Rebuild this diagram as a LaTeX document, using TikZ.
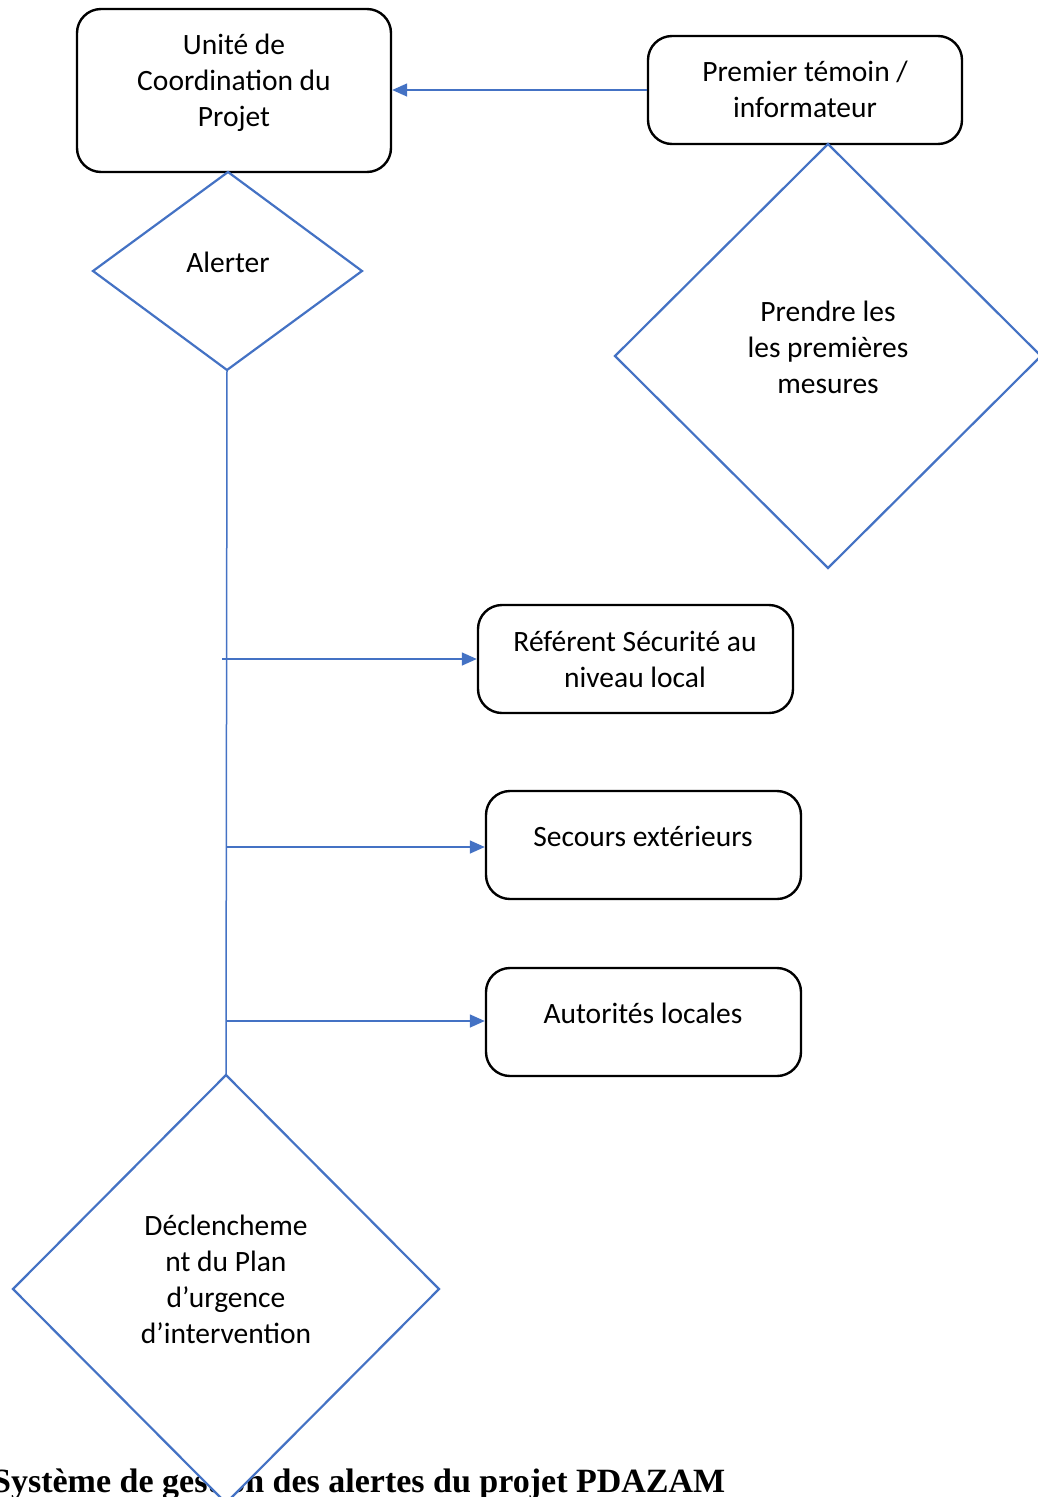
\documentclass[tikz,border=0pt]{standalone}
\usepackage{fontspec}
\setmainfont{Carlito}
\newfontfamily\capfont{Liberation Serif}
\usetikzlibrary{arrows.meta}
\definecolor{wblue}{HTML}{4472C4}
\begin{document}
\begin{tikzpicture}[x=1pt,y=-1pt,
  box/.style={draw=black, line width=2.4pt, rounded corners=24pt, inner sep=0pt},
  flow/.style={draw=wblue, line width=1.5pt},
  arr/.style={flow, -{Triangle[length=15pt,width=13pt]}},
  dia/.style={draw=wblue, line width=2.2pt, fill=white, line join=miter},
  txt/.style={font=\fontsize{29.5}{36}\selectfont, align=center, inner sep=0pt}]
\useasboundingbox (0,0) rectangle (1037,1497);

% boxes
\node[box, minimum width=314pt, minimum height=163pt] (ucp) at (234,90.5) {};
\node[box, minimum width=314pt, minimum height=108pt] (pt) at (805,90) {};
\node[box, minimum width=315pt, minimum height=108pt] (ref) at (635.5,659) {};
\node[box, minimum width=315pt, minimum height=108pt] (sec) at (643.5,845) {};
\node[box, minimum width=315pt, minimum height=108pt] (aut) at (643.5,1022) {};

% diamonds
\coordinate (aT) at (228,172); \coordinate (aR) at (362,271);
\coordinate (aB) at (227,370); \coordinate (aL) at (93,271);
\draw[dia] (aT) -- (aR) -- (aB) -- (aL) -- cycle;

\coordinate (pT) at (828,144); \coordinate (pR) at (1041,356);
\coordinate (pB) at (828,568); \coordinate (pL) at (615,356);
\draw[dia] (pT) -- (pR) -- (pB) -- (pL) -- cycle;

% caption (under the big diamond)
\node[anchor=base west, inner sep=0pt, font=\capfont\bfseries\fontsize{34}{40}\selectfont] (cap) at (-8,1492) {Système de gestion des alertes du projet PDAZAM};

\coordinate (dT) at (226,1075); \coordinate (dR) at (439,1289);
\coordinate (dB) at (226,1503); \coordinate (dL) at (13,1289);
\draw[dia] (dT) -- (dR) -- (dB) -- (dL) -- cycle;

% texts
\node[txt] (tucp) at (234,83) {Unité de\\Coordination du\\Projet};
\node[txt] (tpt) at (805,89) {Premier témoin /\\informateur};
\node[txt] (tal) at (228,262) {Alerter};
\node[txt] (tpr) at (828,347) {Prendre les\\les premières\\mesures};
\node[txt] (tref) at (635,659) {Référent Sécurité au\\niveau local};
\node[txt] (tsec) at (643,836) {Secours extérieurs};
\node[txt] (taut) at (643,1013) {Autorités locales};
\node[txt] (tdec) at (226,1279) {Déclencheme\\nt du Plan\\d’urgence\\d’intervention};

% connectors
\draw[arr] (pt.west) -- (pt.west -| ucp.east);
\draw[flow] (aB) -- (dT);
\coordinate (j1) at (222,659);
\coordinate (j2) at (227,847);
\coordinate (j3) at (227,1021);
\draw[arr] (j1) -- (j1 -| ref.west);
\draw[arr] (j2) -- (j2 -| sec.west);
\draw[arr] (j3) -- (j3 -| aut.west);
\end{tikzpicture}
\end{document}
